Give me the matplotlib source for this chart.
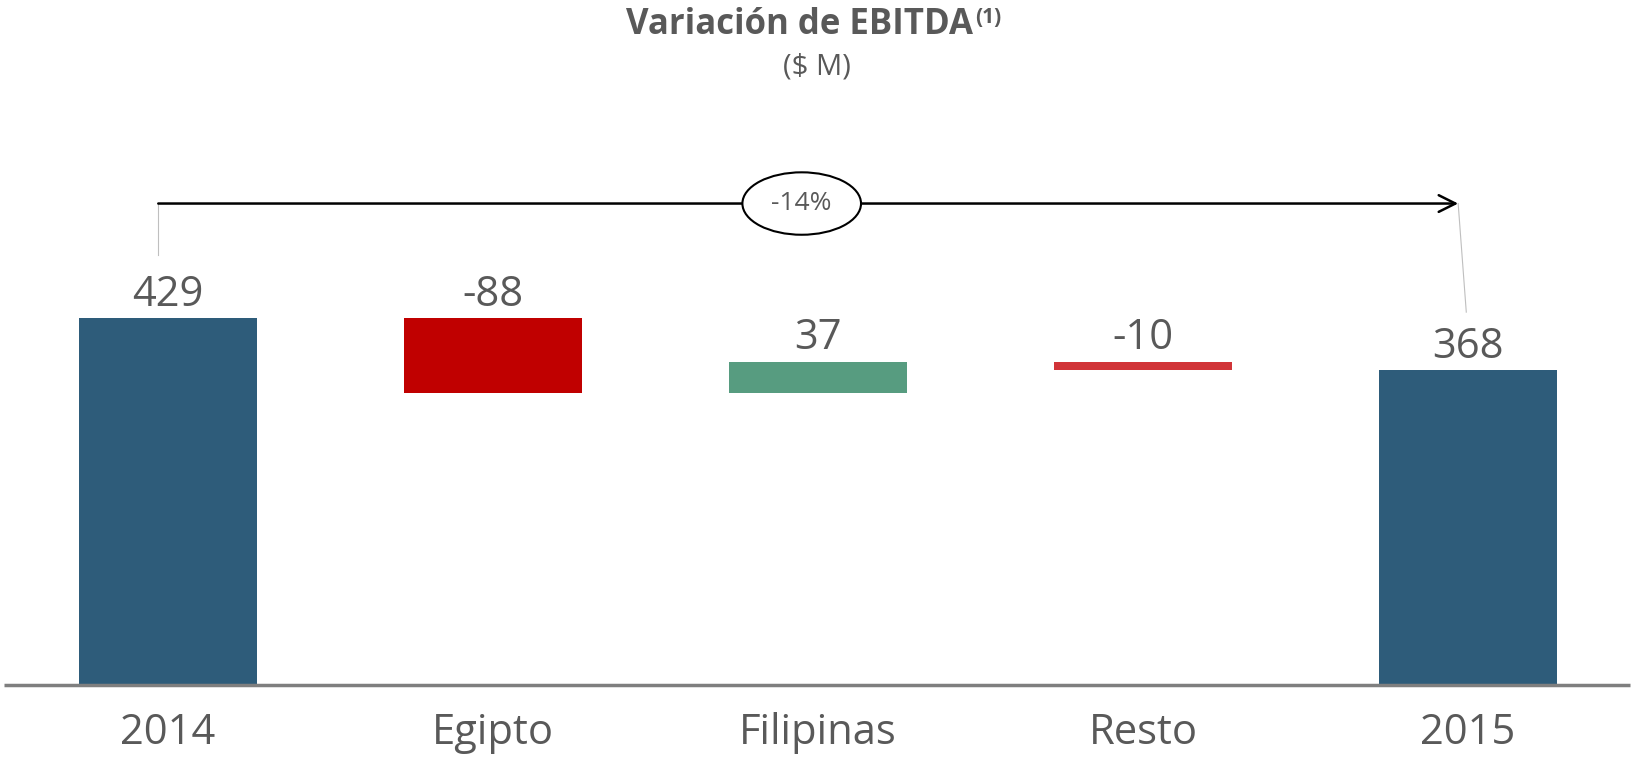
import matplotlib.pyplot as plt
from matplotlib.patches import Ellipse

categories = ["2014", "Egipto", "Filipinas", "Resto", "2015"]
changes = [429, -88, 37, -10, 368]
value_labels = ["429", "-88", "37", "-10", "368"]
colors = ["#2E5C7A", "#C00000", "#579C80", "#D13438", "#2E5C7A"]
pct_label = "-14%"

# waterfall bottoms / heights
bottoms = []
heights = []
running = 0
for i, v in enumerate(changes):
    if i == 0 or i == len(changes) - 1:
        bottoms.append(0)
        heights.append(v)
        running = v
    else:
        new = running + v
        bottoms.append(min(running, new))
        heights.append(abs(v))
        running = new
tops = [b + h for b, h in zip(bottoms, heights)]

gray = "#595959"
plt.rcParams["font.family"] = ["Open Sans", "DejaVu Sans"]

fig = plt.figure(figsize=(16.33, 7.57), dpi=100)
ax = fig.add_axes([0, 72 / 757, 1, 685 / 757])
ax.set_xlim(-0.517, 4.508)
ax.set_ylim(0, 801)
ax.axis("off")

x = list(range(len(categories)))
ax.bar(x, heights, bottom=bottoms, width=0.55, color=colors)

for xi, t, lab in zip(x, tops, value_labels):
    ax.text(xi, t + 3, lab, ha="center", va="bottom", fontsize=30,
            color=gray)

# baseline
ax.plot([-0.505, 4.5], [0, 0], color="#7F7F7F", lw=2.5, clip_on=False,
        solid_capstyle="butt")

for xi, c in zip(x, categories):
    ax.text(xi, -56, c, ha="center", va="center", fontsize=30,
            color=gray, clip_on=False)

# change arrow
ya = 563
ax.plot([-0.03, -0.03], [ya, 503], color="#BFBFBF", lw=0.8)
ax.plot([3.97, 3.995], [ya, 436], color="#BFBFBF", lw=0.8)
ax.annotate("", xy=(3.97, ya), xytext=(-0.03, ya),
            arrowprops=dict(arrowstyle="->", color="black", lw=1.8,
                            mutation_scale=30, shrinkA=0, shrinkB=0))
ell = Ellipse((1.95, ya), width=0.365, height=73, facecolor="white",
              edgecolor="black", lw=1.5, zorder=3)
ax.add_patch(ell)
ax.text(1.95, ya, pct_label, ha="center", va="center", fontsize=19,
        color=gray, zorder=4)

# title
t = fig.text(800 / 1633, 1 - 25 / 757, "Variación de EBITDA", ha="center",
             va="center", fontsize=25, fontweight="bold", color=gray)
ax.annotate("(1)", xy=(1, 1), xycoords=t, xytext=(1, 0),
            textcoords="offset points", ha="left", va="top", fontsize=15,
            fontweight="bold", color=gray)
fig.text(817 / 1633, 1 - 67 / 757, "($ M)", ha="center", va="center",
         fontsize=21, color=gray)

fig.savefig("out.png", dpi=100)
